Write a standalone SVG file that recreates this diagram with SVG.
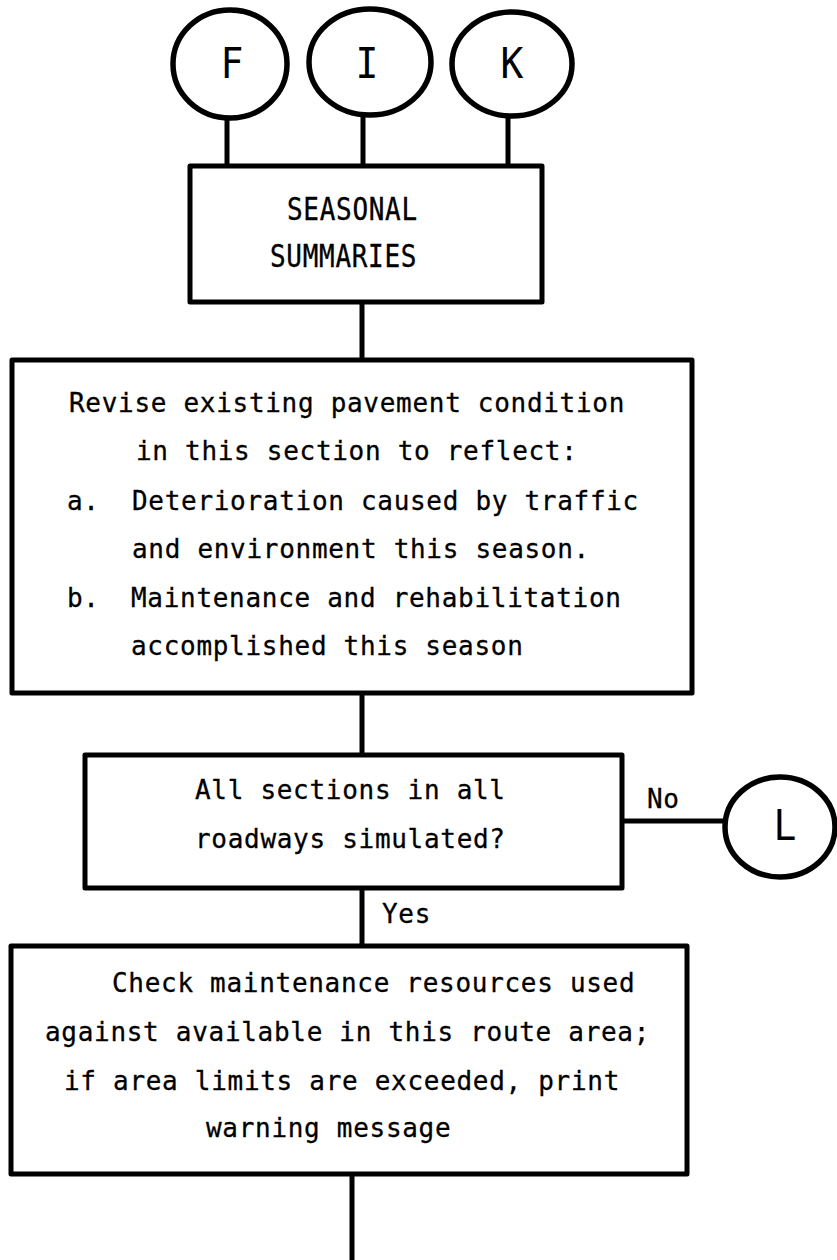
<svg xmlns="http://www.w3.org/2000/svg" width="837" height="1260" viewBox="0 0 837 1260">
  <style>
    .box { fill: #fff; stroke: #000; stroke-width: 5; stroke-linejoin: round; }
    .conn { fill: #fff; stroke: #000; stroke-width: 5.5; }
    .wire { stroke: #000; stroke-width: 5; fill: none; }
    .t { font-family: "DejaVu Sans Mono", "Liberation Mono", monospace; font-size: 26px; letter-spacing: 0.7px; fill: #000; stroke: #000; stroke-width: 0.3; }
    .lbl { font-family: "DejaVu Sans Mono", "Liberation Mono", monospace; font-size: 38px; fill: #000; text-anchor: middle; }
  </style>

  <!-- connectors -->
  <g id="connectors">
    <line class="wire" x1="227" y1="116" x2="227" y2="166"/>
    <line class="wire" x1="363" y1="113" x2="363" y2="166"/>
    <line class="wire" x1="508" y1="115" x2="508" y2="166"/>
    <line class="wire" x1="362" y1="302" x2="362" y2="360"/>
    <line class="wire" x1="362" y1="693" x2="362" y2="755"/>
    <line class="wire" x1="622" y1="821" x2="725" y2="821"/>
    <line class="wire" x1="362" y1="888" x2="362" y2="946"/>
    <line class="wire" x1="352" y1="1174" x2="352" y2="1260"/>
    <text class="t" x="647" y="808">No</text>
    <text class="t" x="382" y="923">Yes</text>
  </g>

  <!-- entry connectors -->
  <g id="node-F">
    <ellipse class="conn" cx="230" cy="64" rx="57" ry="54"/>
    <text class="lbl" transform="translate(232,78) scale(1,1.12)">F</text>
  </g>
  <g id="node-I">
    <ellipse class="conn" cx="370" cy="62" rx="61" ry="53"/>
    <text class="lbl" transform="translate(367,78) scale(1,1.12)">I</text>
  </g>
  <g id="node-K">
    <ellipse class="conn" cx="512" cy="64" rx="60" ry="52"/>
    <text class="lbl" transform="translate(512,78) scale(1,1.12)">K</text>
  </g>

  <!-- seasonal summaries -->
  <g id="node-seasonal">
    <rect class="box" x="190" y="166" width="352" height="136"/>
    <text class="t" transform="translate(287,220) scale(1,1.2)">SEASONAL</text>
    <text class="t" transform="translate(270,267) scale(1,1.2)">SUMMARIES</text>
  </g>

  <!-- revise pavement condition -->
  <g id="node-revise">
    <rect class="box" x="12" y="360" width="680" height="333"/>
    <text class="t" x="69" y="412">Revise existing pavement condition</text>
    <text class="t" x="136" y="460">in this section to reflect:</text>
    <text class="t" x="67" y="510">a.</text>
    <text class="t" x="132" y="510">Deterioration caused by traffic</text>
    <text class="t" x="132" y="558">and environment this season.</text>
    <text class="t" x="67" y="607">b.</text>
    <text class="t" x="131" y="607">Maintenance and rehabilitation</text>
    <text class="t" x="131" y="655">accomplished this season</text>
  </g>

  <!-- decision -->
  <g id="node-decision">
    <rect class="box" x="85" y="755" width="537" height="133"/>
    <text class="t" x="195" y="799">All sections in all</text>
    <text class="t" x="195" y="848">roadways simulated?</text>
  </g>

  <!-- exit connector L -->
  <g id="node-L">
    <ellipse class="conn" cx="780" cy="827" rx="55" ry="50"/>
    <text class="lbl" transform="translate(785,840) scale(1,1.12)">L</text>
  </g>

  <!-- resource check -->
  <g id="node-check">
    <rect class="box" x="11" y="946" width="676" height="228"/>
    <text class="t" x="112" y="992">Check maintenance resources used</text>
    <text class="t" x="45" y="1041">against available in this route area;</text>
    <text class="t" x="64" y="1090">if area limits are exceeded, print</text>
    <text class="t" x="206" y="1137">warning message</text>
  </g>
</svg>
